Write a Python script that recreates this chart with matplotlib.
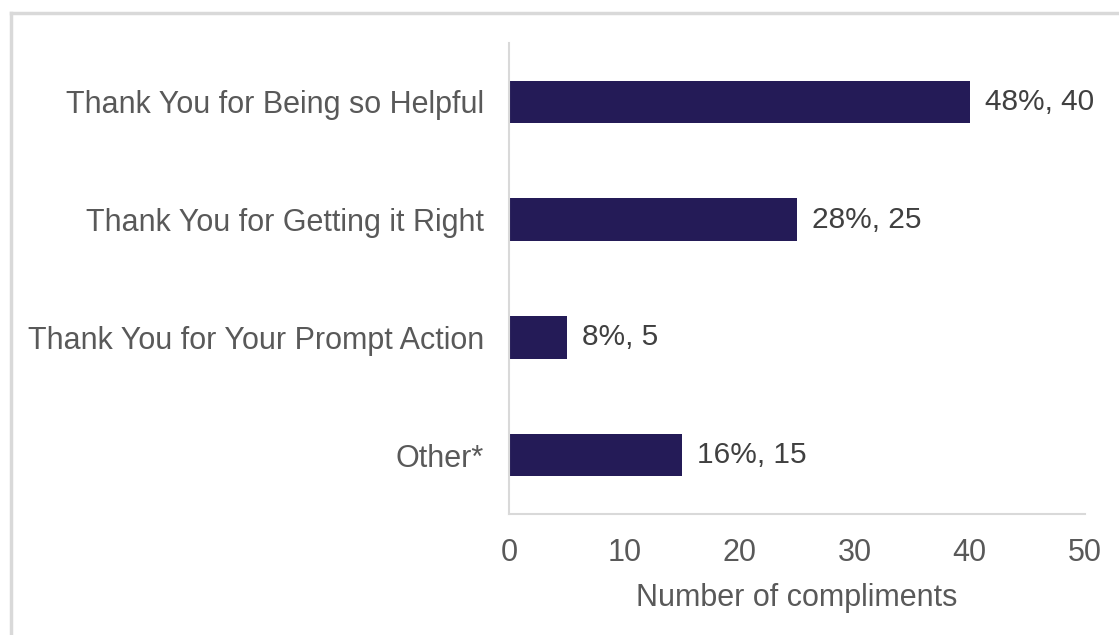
import matplotlib.pyplot as plt
from matplotlib.lines import Line2D

categories = ['Thank You for Being so Helpful', 'Thank You for Getting it Right',
              'Thank You for Your Prompt Action', 'Other*']
counts = [40, 25, 5, 15]
percents = ['48%', '28%', '8%', '16%']

plt.rcParams['font.family'] = ['Liberation Sans', 'DejaVu Sans']

fig = plt.figure(figsize=(11.19, 6.35), dpi=100)
ax = fig.add_axes([0.4549, 0.1906, 0.5147, 0.7417])

pos = list(range(len(categories)))
ax.barh(pos, counts, height=0.36, color='#241b57')
ax.set_ylim(len(categories) - 0.5, -0.5)
ax.set_xlim(0, 50)
ax.set_yticks(pos)
ax.set_yticklabels(categories)
ax.set_xticks([0, 10, 20, 30, 40, 50])

for i in pos:
    ax.text(counts[i] + 1.3, i, percents[i] + ', ' + str(counts[i]),
            va='center', ha='left', fontsize=21.5, color='#404040')

for s in ['top', 'right']:
    ax.spines[s].set_visible(False)
ax.spines['left'].set_color('#d9d9d9')
ax.spines['bottom'].set_color('#d9d9d9')
ax.spines['left'].set_linewidth(1.5)
ax.spines['bottom'].set_linewidth(1.5)
ax.tick_params(axis='both', length=0, labelsize=22, labelcolor='#595959')
ax.tick_params(axis='y', pad=18)
ax.tick_params(axis='x', pad=17)
ax.set_xlabel('Number of compliments', fontsize=22, color='#595959', labelpad=11)

# outer frame (cropped chart border)
fig.add_artist(Line2D([0.0094, 1.0], [0.9795, 0.9795], color='#d9d9d9', lw=2.5, transform=fig.transFigure))
fig.add_artist(Line2D([0.0094, 0.0094], [0.0, 0.9795], color='#d9d9d9', lw=2.5, transform=fig.transFigure))

fig.savefig('out.png', dpi=100)
